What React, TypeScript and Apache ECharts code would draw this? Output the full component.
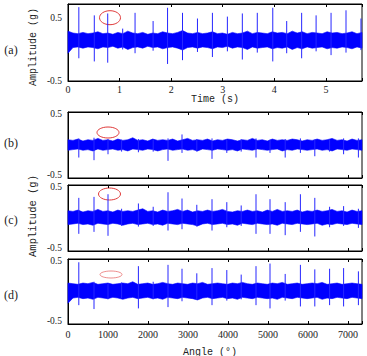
import React, { useEffect, useRef } from "react";
import * as echarts from "echarts";

// ---------- data ----------
const TIME_MAX = 5.7;
const ANGLE_MAX = 7350;

// spike (impulse) positions
const spikeTimeA = [0.21, 0.51, 0.77, 1.06, 1.3, 1.65, 1.93, 2.22, 2.51, 2.8, 3.09, 3.38, 3.67, 3.97, 4.24, 4.53, 4.81, 5.1, 5.39, 5.68];
const spikeAngle = [270, 650, 1000, 1340, 1760, 2130, 2500, 2850, 3220, 3600, 3970, 4330, 4700, 5050, 5430, 5810, 6170, 6540, 6890, 7260];

// spike peaks / troughs per panel
const spikeTopA = [0.67, 0.54, 0.57, 0.33, 0.58, 0.45, 0.66, 0.58, 0.49, 0.58, 0.52, 0.57, 0.58, 0.66, 0.45, 0.58, 0.54, 0.58, 0.62, 0.49];
const spikeLowA = [-0.14, -0.19, -0.21, 0.0, -0.06, -0.02, -0.23, -0.17, -0.04, -0.12, -0.03, -0.16, -0.05, -0.19, -0.06, -0.14, -0.03, -0.09, -0.05, -0.01];
const spikeTopB = [0.1, 0.11, 0.09, 0.08, 0.09, 0.08, 0.1, 0.16, 0.09, 0.1, 0.08, 0.09, 0.1, 0.08, 0.09, 0.1, 0.08, 0.09, 0.1, 0.1];
const spikeLowB = [-0.19, -0.23, -0.14, -0.1, -0.11, -0.1, -0.24, -0.12, -0.1, -0.21, -0.12, -0.1, -0.19, -0.12, -0.19, -0.12, -0.17, -0.1, -0.14, -0.19];
const spikeTopC = [0.305, 0.32, 0.36, 0.14, 0.22, 0.17, 0.39, 0.295, 0.2, 0.285, 0.24, 0.19, 0.36, 0.285, 0.24, 0.36, 0.305, 0.17, 0.18, 0.14];
const spikeLowC = [-0.24, -0.21, -0.27, -0.12, -0.13, -0.12, -0.19, -0.17, -0.13, -0.19, -0.14, -0.12, -0.24, -0.24, -0.26, -0.21, -0.28, -0.14, -0.12, -0.15];
const spikeTopD = [0.45, 0.15, 0.12, 0.14, 0.39, 0.15, 0.41, 0.35, 0.28, 0.36, 0.33, 0.26, 0.39, 0.43, 0.27, 0.41, 0.34, 0.35, 0.36, 0.31];
const spikeLowD = [-0.21, -0.27, -0.12, -0.1, -0.26, -0.12, -0.24, -0.15, -0.12, -0.21, -0.14, -0.12, -0.21, -0.26, -0.14, -0.23, -0.23, -0.21, -0.23, -0.21];

// noise band envelopes (60 evenly spaced samples across each record)
const bandUpA = [0.29, 0.26, 0.25, 0.27, 0.25, 0.26, 0.28, 0.25, 0.26, 0.24, 0.27, 0.25, 0.29, 0.26, 0.25, 0.27, 0.24, 0.26, 0.25, 0.28, 0.26, 0.25, 0.27, 0.3, 0.26, 0.25, 0.27, 0.25, 0.26, 0.28, 0.25, 0.26, 0.24, 0.27, 0.25, 0.26, 0.29, 0.25, 0.27, 0.26, 0.25, 0.28, 0.26, 0.27, 0.25, 0.29, 0.26, 0.28, 0.25, 0.27, 0.26, 0.25, 0.28, 0.26, 0.27, 0.25, 0.26, 0.28, 0.25, 0.27];
const bandLowA = [-0.06, 0.03, 0.04, 0.02, 0.04, 0.03, 0.01, 0.04, 0.03, 0.05, 0.02, 0.04, 0.0, 0.03, 0.04, 0.02, 0.05, 0.03, 0.04, 0.01, 0.03, 0.04, 0.02, -0.01, 0.03, 0.04, 0.02, 0.04, 0.03, 0.01, 0.04, 0.03, 0.05, 0.02, 0.04, 0.03, 0.0, 0.04, 0.02, 0.03, 0.04, 0.01, 0.03, 0.02, 0.04, 0.0, 0.03, 0.01, 0.04, 0.02, 0.03, 0.04, 0.01, 0.03, 0.02, 0.04, 0.03, 0.01, 0.04, 0.02];
const bandUpB = [0.08, 0.07, 0.09, 0.06, 0.08, 0.07, 0.1, 0.07, 0.08, 0.06, 0.09, 0.07, 0.08, 0.11, 0.07, 0.08, 0.06, 0.09, 0.07, 0.08, 0.07, 0.09, 0.06, 0.08, 0.1, 0.07, 0.08, 0.07, 0.09, 0.06, 0.08, 0.07, 0.09, 0.08, 0.06, 0.08, 0.07, 0.1, 0.07, 0.08, 0.06, 0.09, 0.07, 0.08, 0.07, 0.09, 0.08, 0.06, 0.08, 0.07, 0.09, 0.07, 0.08, 0.1, 0.07, 0.08, 0.06, 0.09, 0.07, 0.08];
const bandLowB = [-0.08, -0.07, -0.06, -0.08, -0.07, -0.09, -0.06, -0.08, -0.07, -0.06, -0.08, -0.07, -0.09, -0.06, -0.07, -0.08, -0.06, -0.07, -0.09, -0.07, -0.06, -0.08, -0.07, -0.06, -0.08, -0.07, -0.09, -0.06, -0.07, -0.08, -0.06, -0.07, -0.08, -0.07, -0.09, -0.06, -0.07, -0.08, -0.06, -0.07, -0.08, -0.07, -0.06, -0.09, -0.07, -0.08, -0.06, -0.07, -0.08, -0.07, -0.06, -0.08, -0.07, -0.09, -0.06, -0.07, -0.08, -0.06, -0.07, -0.08];
const bandUpC = [0.11, 0.1, 0.12, 0.09, 0.11, 0.1, 0.13, 0.1, 0.11, 0.09, 0.12, 0.1, 0.11, 0.1, 0.12, 0.14, 0.1, 0.11, 0.09, 0.12, 0.1, 0.11, 0.13, 0.1, 0.12, 0.09, 0.11, 0.1, 0.12, 0.1, 0.11, 0.13, 0.1, 0.09, 0.11, 0.1, 0.12, 0.1, 0.11, 0.09, 0.12, 0.1, 0.13, 0.1, 0.11, 0.1, 0.12, 0.09, 0.11, 0.1, 0.12, 0.1, 0.11, 0.13, 0.1, 0.11, 0.09, 0.12, 0.1, 0.11];
const bandLowC = [-0.1, -0.09, -0.08, -0.1, -0.09, -0.11, -0.08, -0.09, -0.1, -0.08, -0.09, -0.11, -0.09, -0.08, -0.1, -0.09, -0.08, -0.1, -0.09, -0.11, -0.08, -0.09, -0.1, -0.08, -0.09, -0.1, -0.12, -0.09, -0.08, -0.1, -0.09, -0.08, -0.1, -0.09, -0.11, -0.08, -0.09, -0.1, -0.08, -0.09, -0.1, -0.09, -0.11, -0.08, -0.09, -0.1, -0.08, -0.09, -0.1, -0.09, -0.08, -0.11, -0.09, -0.1, -0.08, -0.09, -0.1, -0.08, -0.09, -0.1];
const bandUpD = [0.13, 0.12, 0.11, 0.13, 0.12, 0.14, 0.11, 0.12, 0.13, 0.11, 0.12, 0.13, 0.12, 0.15, 0.11, 0.12, 0.13, 0.11, 0.12, 0.14, 0.12, 0.11, 0.13, 0.12, 0.11, 0.13, 0.12, 0.14, 0.11, 0.12, 0.13, 0.12, 0.11, 0.13, 0.12, 0.14, 0.12, 0.11, 0.13, 0.12, 0.11, 0.13, 0.12, 0.14, 0.11, 0.12, 0.13, 0.11, 0.12, 0.13, 0.12, 0.14, 0.11, 0.12, 0.13, 0.11, 0.12, 0.13, 0.12, 0.11];
const bandLowD = [-0.18, -0.1, -0.09, -0.11, -0.1, -0.12, -0.09, -0.1, -0.11, -0.09, -0.1, -0.12, -0.1, -0.09, -0.11, -0.1, -0.09, -0.11, -0.1, -0.12, -0.09, -0.1, -0.11, -0.09, -0.1, -0.11, -0.13, -0.1, -0.09, -0.11, -0.1, -0.09, -0.11, -0.1, -0.12, -0.09, -0.1, -0.11, -0.09, -0.1, -0.11, -0.1, -0.12, -0.09, -0.1, -0.11, -0.09, -0.1, -0.11, -0.1, -0.09, -0.12, -0.1, -0.11, -0.09, -0.1, -0.11, -0.09, -0.1, -0.11];

const panelLabels = ["(a)", "(b)", "(c)", "(d)"];

// ---------- layout ----------
const GRIDS = [
  { left: 68, top: 4, width: 294, height: 77 },
  { left: 68, top: 112, width: 294, height: 66 },
  { left: 68, top: 185, width: 294, height: 66 },
  { left: 68, top: 259, width: 294, height: 65 },
];
const BLUE = "#0000ff";
const NUM_FONT = "'Liberation Serif', 'DejaVu Serif', serif";
const MONO_FONT = "'Liberation Mono', 'DejaVu Sans Mono', monospace";

function bandSeries(idx: number, xmax: number, up: number[], low: number[]) {
  const n = up.length;
  const data = up.map((u, i) => [(i * xmax) / (n - 1), u, low[i]]);
  return {
    type: "custom",
    xAxisIndex: idx,
    yAxisIndex: idx,
    silent: true,
    encode: { x: 0, y: [1, 2] },
    data,
    renderItem: (params: any, api: any) => {
      if (params.dataIndex !== 0) return;
      const pts: number[][] = [];
      for (let i = 0; i < data.length; i++) pts.push(api.coord([data[i][0], data[i][1]]));
      for (let i = data.length - 1; i >= 0; i--) pts.push(api.coord([data[i][0], data[i][2]]));
      return {
        type: "polygon",
        shape: { points: pts },
        style: { fill: BLUE, stroke: BLUE, lineWidth: 0.6 },
      };
    },
  };
}

function spikeSeries(idx: number, xs: number[], top: number[], low: number[]) {
  const data = xs.map((x, i) => [x, low[i], top[i]]);
  return {
    type: "custom",
    xAxisIndex: idx,
    yAxisIndex: idx,
    silent: true,
    encode: { x: 0, y: [1, 2] },
    data,
    renderItem: (params: any, api: any) => {
      const p0 = api.coord([api.value(0), api.value(1)]);
      const p1 = api.coord([api.value(0), api.value(2)]);
      return {
        type: "line",
        shape: { x1: p0[0], y1: p0[1], x2: p1[0], y2: p1[1] },
        style: { stroke: "#2626ff", lineWidth: 1 },
      };
    },
  };
}

export default function App() {
  const ref = useRef<HTMLDivElement>(null);
  useEffect(() => {
    if (!ref.current) return;
    const chart = echarts.init(ref.current, undefined, { renderer: "svg" });

    const xmaxes = [TIME_MAX, ANGLE_MAX, ANGLE_MAX, ANGLE_MAX];
    const intervals = [1, 1000, 1000, 1000];
    const xAxes: any[] = [];
    for (let pos = 0; pos < 2; pos++) {
      for (let i = 0; i < 4; i++) {
        const bottom = pos === 0;
        xAxes.push({
          gridIndex: i,
          type: "value",
          position: bottom ? "bottom" : "top",
          min: 0,
          max: xmaxes[i],
          interval: intervals[i],
          axisLine: { show: true, onZero: false, lineStyle: { color: "#000", width: 1 } },
          axisTick: { show: true, inside: true, length: 3, lineStyle: { color: "#000" } },
          splitLine: { show: false },
          axisLabel: {
            show: bottom && (i === 0 || i === 3),
            margin: i === 0 ? 3 : 5,
            color: "#222",
            fontFamily: NUM_FONT,
            fontSize: 10,
            formatter: (v: number) =>
              Math.abs(v / intervals[i] - Math.round(v / intervals[i])) < 1e-6 ? String(Math.round(v * 1000) / 1000) : "",
          },
        });
      }
    }
    const yAxes = GRIDS.map((g, i) => ({
      gridIndex: i,
      type: "value",
      min: -0.5,
      max: i === 0 ? 0.72 : 0.5,
      interval: 0.5,
      axisLine: { show: true, onZero: false, lineStyle: { color: "#000", width: 1 } },
      axisTick: { show: false },
      splitLine: { show: false },
      axisLabel: {
        margin: 6,
        color: "#222",
        fontFamily: NUM_FONT,
        fontSize: 9.5,
        formatter: (v: number) => {
          if (Math.abs(Math.abs(v) - 0.5) > 1e-6) return "";
          if (i === 0) return v < 0 ? "-0.5" : "0.5";
          return v < 0 ? "{lo|-0.5}" : "{hi|0.5}";
        },
        rich: {
          lo: { fontFamily: NUM_FONT, fontSize: 9.5, color: "#222", padding: [0, 0, 6, 0] },
          hi: { fontFamily: NUM_FONT, fontSize: 9.5, color: "#222", padding: [3, 0, 0, 0] },
        },
      },
    }));

    const series = [
      bandSeries(0, TIME_MAX, bandUpA, bandLowA),
      spikeSeries(0, spikeTimeA, spikeTopA, spikeLowA),
      bandSeries(1, ANGLE_MAX, bandUpB, bandLowB),
      spikeSeries(1, spikeAngle, spikeTopB, spikeLowB),
      bandSeries(2, ANGLE_MAX, bandUpC, bandLowC),
      spikeSeries(2, spikeAngle, spikeTopC, spikeLowC),
      bandSeries(3, ANGLE_MAX, bandUpD, bandLowD),
      spikeSeries(3, spikeAngle, spikeTopD, spikeLowD),
    ];

    const labelYs = [50, 143, 220, 295];
    const graphic: any[] = [];
    panelLabels.forEach((t, i) => {
      graphic.push({
        type: "text",
        x: 11,
        y: labelYs[i],
        style: { text: t, fontFamily: NUM_FONT, fontSize: 12, fill: "#222", align: "center", verticalAlign: "middle" },
      });
    });
    graphic.push(
      {
        type: "text",
        x: 33,
        y: 47,
        rotation: Math.PI / 2,
        style: { text: "Amplitude (g)", fontFamily: MONO_FONT, fontSize: 10, fill: "#222", align: "center", verticalAlign: "middle" },
      },
      {
        type: "text",
        x: 33,
        y: 216,
        rotation: Math.PI / 2,
        style: { text: "Amplitude (g)", fontFamily: MONO_FONT, fontSize: 10.5, fill: "#222", align: "center", verticalAlign: "middle" },
      },
      {
        type: "text",
        x: 215,
        y: 99,
        style: { text: "Time (s)", fontFamily: MONO_FONT, fontSize: 10, fill: "#222", align: "center", verticalAlign: "middle" },
      },
      {
        type: "text",
        x: 210,
        y: 352,
        style: { text: "Angle (°)", fontFamily: MONO_FONT, fontSize: 10, fill: "#222", align: "center", verticalAlign: "middle" },
      },
      { type: "ellipse", shape: { cx: 110, cy: 17.7, rx: 10.5, ry: 7 }, style: { fill: "none", stroke: "#e03a3a", lineWidth: 1 } },
      { type: "ellipse", shape: { cx: 108, cy: 132.5, rx: 11, ry: 5.5 }, style: { fill: "none", stroke: "#e03a3a", lineWidth: 1 } },
      { type: "ellipse", shape: { cx: 109.5, cy: 194, rx: 11, ry: 6 }, style: { fill: "none", stroke: "#e03a3a", lineWidth: 1 } },
      { type: "ellipse", shape: { cx: 111, cy: 274.5, rx: 11, ry: 3.5 }, style: { fill: "none", stroke: "#e87070", lineWidth: 0.8 } }
    );

    chart.setOption({
      animation: false,
      backgroundColor: "#fff",
      grid: GRIDS.map((g) => ({ ...g, show: true, borderColor: "#000", borderWidth: 1, backgroundColor: "transparent" })),
      xAxis: xAxes,
      yAxis: yAxes,
      series,
      graphic,
    });
    return () => chart.dispose();
  }, []);
  return <div ref={ref} style={{ position: "fixed", left: 0, top: 0, width: 367, height: 356 }} />;
}
